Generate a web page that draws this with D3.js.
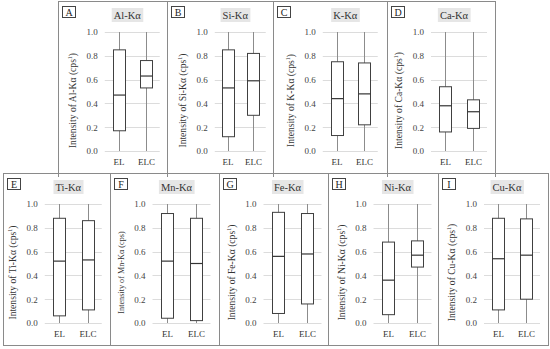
<!DOCTYPE html>
<html lang="en">
<head>
<meta charset="utf-8">
<title>EL / ELC box plots</title>
<script src="https://cdn.jsdelivr.net/npm/d3@7/dist/d3.min.js"></script>
<style>
  body { margin: 0; background: #fff; }
  svg { display: block; font-family: "Liberation Serif", "DejaVu Serif", serif; }
</style>
</head>
<body>
<script>
// data (normalised intensity)
var letters  = ["A", "B", "C", "D", "E", "F", "G", "H", "I"];
var elements = ["Al", "Si", "K", "Ca", "Ti", "Mn", "Fe", "Ni", "Cu"];
var groups   = ["EL", "ELC"];
var yTicks   = [0, 0.2, 0.4, 0.6, 0.8, 1.0];

var minEL  = [0, 0, 0, 0, 0, 0, 0, 0, 0];
var q1EL   = [0.17, 0.12, 0.13, 0.16, 0.06, 0.04, 0.08, 0.07, 0.11];
var medEL  = [0.47, 0.53, 0.44, 0.38, 0.52, 0.52, 0.56, 0.36, 0.54];
var q3EL   = [0.85, 0.85, 0.75, 0.54, 0.88, 0.92, 0.93, 0.68, 0.88];
var maxEL  = [1, 1, 1, 1, 1, 1, 1, 1, 1];

var minELC = [0, 0, 0, 0, 0, 0, 0, 0, 0];
var q1ELC  = [0.53, 0.30, 0.22, 0.19, 0.11, 0.02, 0.16, 0.47, 0.20];
var medELC = [0.63, 0.59, 0.48, 0.33, 0.53, 0.50, 0.58, 0.57, 0.57];
var q3ELC  = [0.76, 0.82, 0.74, 0.43, 0.86, 0.88, 0.92, 0.69, 0.875];
var maxELC = [1, 1, 1, 1, 1, 1, 1, 1, 1];

// panel frames: left/right border, plot range, row
var frames = [
  {x0: 58,  x1: 167, a: 104.75, b: 159.75, row: 0},
  {x0: 167, x1: 273, a: 214.75, b: 265.75, row: 0},
  {x0: 273, x1: 387, a: 322.75, b: 377.75, row: 0},
  {x0: 387, x1: 495, a: 431,    b: 487,    row: 0},
  {x0: 3,   x1: 110, a: 44.75,  b: 101.75, row: 1},
  {x0: 110, x1: 219, a: 152.5,  b: 210.5,  row: 1},
  {x0: 219, x1: 328, a: 263.5,  b: 321.5,  row: 1},
  {x0: 328, x1: 438, a: 373.5,  b: 431.5,  row: 1},
  {x0: 438, x1: 548, a: 484,    b: 540,    row: 1}
];
var rows = [
  {top: 1,   bottom: 173, y0: 151, y1: 32},
  {top: 173, bottom: 345, y0: 323, y1: 204}
];

var w = 550, h = 349, boxW = 12;

var svg = d3.select("body").append("svg")
  .attr("width", w).attr("height", h);

// panel borders
frames.forEach(function(f) {
  var r = rows[f.row];
  svg.append("rect")
    .attr("x", f.x0 + 0.5).attr("y", r.top + 0.5)
    .attr("width", f.x1 - f.x0).attr("height", r.bottom - r.top)
    .attr("fill", "none").attr("stroke", "#8a8a8a").attr("stroke-width", 1);
  if (f.row == 0) {
    svg.append("line")
      .attr("x1", f.x0 + 0.5).attr("x2", f.x0 + 0.5)
      .attr("y1", r.bottom).attr("y2", r.bottom + 4)
      .attr("stroke", "#8a8a8a");
  }
});
svg.append("line")
  .attr("x1", 495.5).attr("x2", 495.5).attr("y1", 173).attr("y2", 177)
  .attr("stroke", "#8a8a8a");

frames.forEach(function(f, i) {
  var r = rows[f.row];
  var g = svg.append("g");

  var x = d3.scalePoint().domain(groups).range([f.a, f.b]).padding(0.5);
  var y = d3.scaleLinear().domain([0, 1]).range([r.y0, r.y1]);

  // gridlines
  g.selectAll("line.grid")
    .data(yTicks).enter().append("line")
    .attr("class", "grid")
    .attr("x1", f.a).attr("x2", f.b)
    .attr("y1", function(d) { return Math.round(y(d)) + 0.5; })
    .attr("y2", function(d) { return Math.round(y(d)) + 0.5; })
    .attr("stroke", "#dcdcdc").attr("stroke-width", 1);

  // y axis labels
  var ya = g.append("g")
    .attr("transform", "translate(" + f.a + ",0)")
    .call(d3.axisLeft(y).tickValues(yTicks).tickFormat(d3.format(".1f"))
      .tickSize(0).tickPadding(7));
  ya.select(".domain").remove();
  ya.selectAll("text")
    .attr("font-family", "Liberation Serif, serif")
    .attr("font-size", "9px").attr("fill", "#444");

  // x axis labels
  var xa = g.append("g")
    .attr("transform", "translate(0," + r.y0 + ")")
    .call(d3.axisBottom(x).tickSize(0).tickPadding(8));
  xa.select(".domain").remove();
  xa.selectAll("text")
    .attr("font-family", "Liberation Serif, serif")
    .attr("font-size", "9px").attr("fill", "#333");

  var stats = [
    {k: "EL",  lo: minEL[i],  q1: q1EL[i],  med: medEL[i],  q3: q3EL[i],  hi: maxEL[i]},
    {k: "ELC", lo: minELC[i], q1: q1ELC[i], med: medELC[i], q3: q3ELC[i], hi: maxELC[i]}
  ];

  var bx = g.selectAll("g.box").data(stats).enter().append("g").attr("class", "box");

  // whiskers
  bx.append("line")
    .attr("x1", function(d) { return Math.round(x(d.k)) + 0.5; })
    .attr("x2", function(d) { return Math.round(x(d.k)) + 0.5; })
    .attr("y1", function(d) { return y(d.lo); })
    .attr("y2", function(d) { return y(d.hi); })
    .attr("stroke", "#8c8c8c").attr("stroke-width", 1);

  bx.append("rect")
    .attr("x", function(d) { return Math.round(x(d.k) - boxW / 2) + 0.5; })
    .attr("y", function(d) { return y(d.q3); })
    .attr("width", boxW)
    .attr("height", function(d) { return y(d.q1) - y(d.q3); })
    .attr("fill", "#fff").attr("stroke", "#404040").attr("stroke-width", 1);

  bx.append("line")
    .attr("x1", function(d) { return Math.round(x(d.k) - boxW / 2) + 0.5; })
    .attr("x2", function(d) { return Math.round(x(d.k) - boxW / 2) + 0.5 + boxW; })
    .attr("y1", function(d) { return y(d.med); })
    .attr("y2", function(d) { return y(d.med); })
    .attr("stroke", "#333").attr("stroke-width", 1.2);

  // y axis title
  var ymid = (r.y0 + r.y1) / 2 + 9;
  var yt = g.append("text")
    .attr("transform", "translate(" + (f.a - 29) + "," + ymid + ") rotate(-90)")
    .attr("text-anchor", "middle")
    .attr("font-size", i == 5 ? "8.2px" : "9.6px")
    .attr("fill", "#333");
  yt.append("tspan").text("Intensity of " + elements[i] + "-K\u03b1 (cps");
  if (i != 5) {
    yt.append("tspan").attr("font-size", "6px").attr("dy", -3.8).text("1");
    yt.append("tspan").attr("dy", 3.8).text(")");
  } else {
    yt.append("tspan").text(")");
  }

  // letter box
  g.append("rect")
    .attr("x", f.x0 + 4.5).attr("y", r.top + 5.5)
    .attr("width", 13).attr("height", 11)
    .attr("fill", "#fff").attr("stroke", "#444").attr("stroke-width", 1);
  g.append("text")
    .attr("x", f.x0 + 11).attr("y", r.top + 14.5)
    .attr("text-anchor", "middle")
    .attr("font-size", "10px").attr("fill", "#222")
    .text(letters[i]);

  // title with grey background
  var tcx = (f.a + f.b) / 2 - 5;
  var tt = g.append("text")
    .attr("x", tcx).attr("y", r.top + 18)
    .attr("text-anchor", "middle")
    .attr("font-size", "10.5px").attr("fill", "#333")
    .text(elements[i] + "-K\u03b1");
  var bb = tt.node().getBBox();
  g.insert("rect", function() { return tt.node(); })
    .attr("x", bb.x - 2).attr("y", r.top + 7)
    .attr("width", bb.width + 4).attr("height", 14)
    .attr("fill", "#e6e6e6");
});
</script>
</body>
</html>
